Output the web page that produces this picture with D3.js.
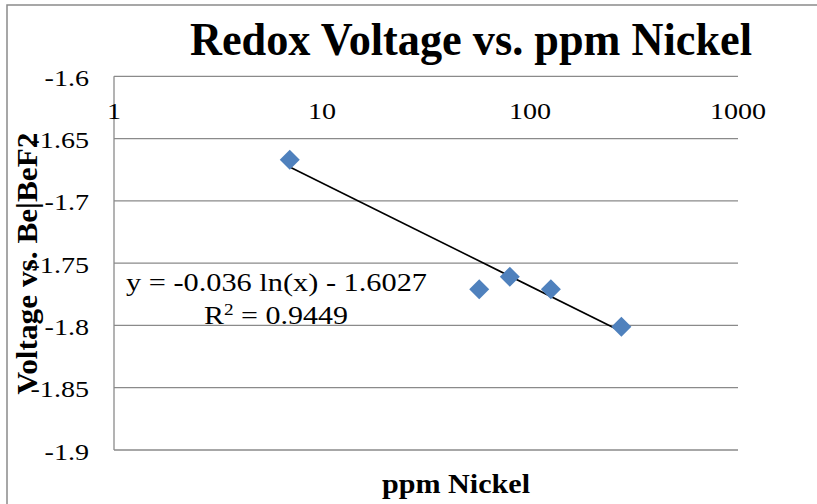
<!DOCTYPE html>
<html>
<head>
<meta charset="utf-8">
<script src="https://cdn.jsdelivr.net/npm/d3@7/dist/d3.min.js"></script>
<style>
  html, body { margin: 0; padding: 0; background: #fff; }
  svg { display: block; }
</style>
</head>
<body>
<svg id="chart" width="817" height="504"></svg>
<script>
// Redox voltage measurements against nickel concentration
const ppmNickel = [7, 57, 80, 126, 275];
const voltage = [-1.667, -1.771, -1.761, -1.771, -1.801];

// Logarithmic trendline reported for the series
const trendSlope = -0.036;
const trendIntercept = -1.6027;
const trendR2 = 0.9449;

const xTicks = [1, 10, 100, 1000];
const yTicks = [-1.6, -1.65, -1.7, -1.75, -1.8, -1.85, -1.9];

const titleText = "Redox Voltage vs. ppm Nickel";
const xTitleText = "ppm Nickel";
const yTitleText = "Voltage vs. Be|BeF2";

const svg = d3.select("#chart");
const serif = "'Liberation Serif', 'Times New Roman', serif";
const gridColor = "#8a8a8a";

const plot = { left: 114, right: 738, top: 76.3, bottom: 450 };

const x = d3.scaleLog().domain([1, 1000]).range([plot.left, plot.right]);
const y = d3.scaleLinear().domain([-1.6, -1.9]).range([plot.top, plot.bottom]);

// widen serif labels a little so they sit like the wider chart face
function widen(sel, factor) {
  sel.each(function () {
    const w = this.getComputedTextLength();
    d3.select(this).attr("textLength", w * factor).attr("lengthAdjust", "spacingAndGlyphs");
  });
}

// chart area border
svg.append("rect")
  .attr("x", 7).attr("y", 5)
  .attr("width", 830).attr("height", 520)
  .attr("fill", "#fff")
  .attr("stroke", gridColor).attr("stroke-width", 1.5);

// horizontal gridlines
svg.append("g").selectAll("line").data(yTicks).join("line")
  .attr("x1", plot.left).attr("x2", plot.right)
  .attr("y1", d => y(d)).attr("y2", d => y(d))
  .attr("stroke", gridColor).attr("stroke-width", 1.3);

// vertical value axis line
svg.append("line")
  .attr("x1", plot.left).attr("x2", plot.left)
  .attr("y1", plot.top).attr("y2", plot.bottom)
  .attr("stroke", gridColor).attr("stroke-width", 1.3);

// y tick labels
svg.append("g").selectAll("text").data(yTicks).join("text")
  .attr("x", 89).attr("y", d => y(d) + 9.5)
  .attr("text-anchor", "end")
  .attr("font-family", serif).attr("font-size", 24)
  .attr("fill", "#000")
  .text(d => d3.format(".2~f")(d).replace("−", "-"))
  .call(widen, 1.17);

// x tick labels (axis crosses at -1.6, labels sit below the top line)
svg.append("g").selectAll("text").data(xTicks).join("text")
  .attr("x", d => x(d)).attr("y", 119)
  .attr("text-anchor", "middle")
  .attr("font-family", serif).attr("font-size", 24)
  .attr("fill", "#000")
  .text(d => String(d))
  .call(widen, 1.17);

// trendline across the data range
const lnTrend = v => trendSlope * Math.log(v) + trendIntercept;
const xr = d3.extent(ppmNickel);
svg.append("line")
  .attr("x1", x(xr[0])).attr("y1", y(lnTrend(xr[0])))
  .attr("x2", x(xr[1])).attr("y2", y(lnTrend(xr[1])))
  .attr("stroke", "#000").attr("stroke-width", 1.6);

// data markers
const diamond = d3.symbol().type(d3.symbolSquare).size(200);
svg.append("g").selectAll("path").data(ppmNickel.map((p, i) => [p, voltage[i]])).join("path")
  .attr("d", diamond)
  .attr("transform", d => `translate(${x(d[0])},${y(d[1])}) rotate(45)`)
  .attr("fill", "#4f81bd");

// trendline equation
const eq = svg.append("g").attr("font-family", serif).attr("font-size", 25).attr("fill", "#000");
eq.append("text")
  .attr("x", 276.5).attr("y", 290.5)
  .attr("text-anchor", "middle")
  .attr("textLength", 301).attr("lengthAdjust", "spacingAndGlyphs")
  .text(`y = ${trendSlope} ln(x) - ${Math.abs(trendIntercept)}`);
const r2 = eq.append("text")
  .attr("x", 276).attr("y", 324)
  .attr("text-anchor", "middle")
  .attr("textLength", 144).attr("lengthAdjust", "spacingAndGlyphs");
r2.append("tspan").text("R");
r2.append("tspan").attr("dy", -9).attr("font-size", 16).text("2");
r2.append("tspan").attr("dy", 9).text(` = ${trendR2}`);

// chart title
svg.append("text")
  .attr("x", 471).attr("y", 55)
  .attr("text-anchor", "middle")
  .attr("font-family", serif).attr("font-weight", "bold").attr("font-size", 46)
  .attr("textLength", 562).attr("lengthAdjust", "spacingAndGlyphs")
  .attr("fill", "#000")
  .text(titleText);

// x axis title
svg.append("text")
  .attr("x", 456).attr("y", 493)
  .attr("text-anchor", "middle")
  .attr("font-family", serif).attr("font-weight", "bold").attr("font-size", 28)
  .attr("textLength", 148).attr("lengthAdjust", "spacingAndGlyphs")
  .attr("fill", "#000")
  .text(xTitleText);

// y axis title
svg.append("text")
  .attr("transform", "translate(37,263.5) rotate(-90)")
  .attr("text-anchor", "middle")
  .attr("font-family", serif).attr("font-weight", "bold").attr("font-size", 29)
  .attr("textLength", 262).attr("lengthAdjust", "spacingAndGlyphs")
  .attr("fill", "#000")
  .text(yTitleText);
</script>
</body>
</html>
